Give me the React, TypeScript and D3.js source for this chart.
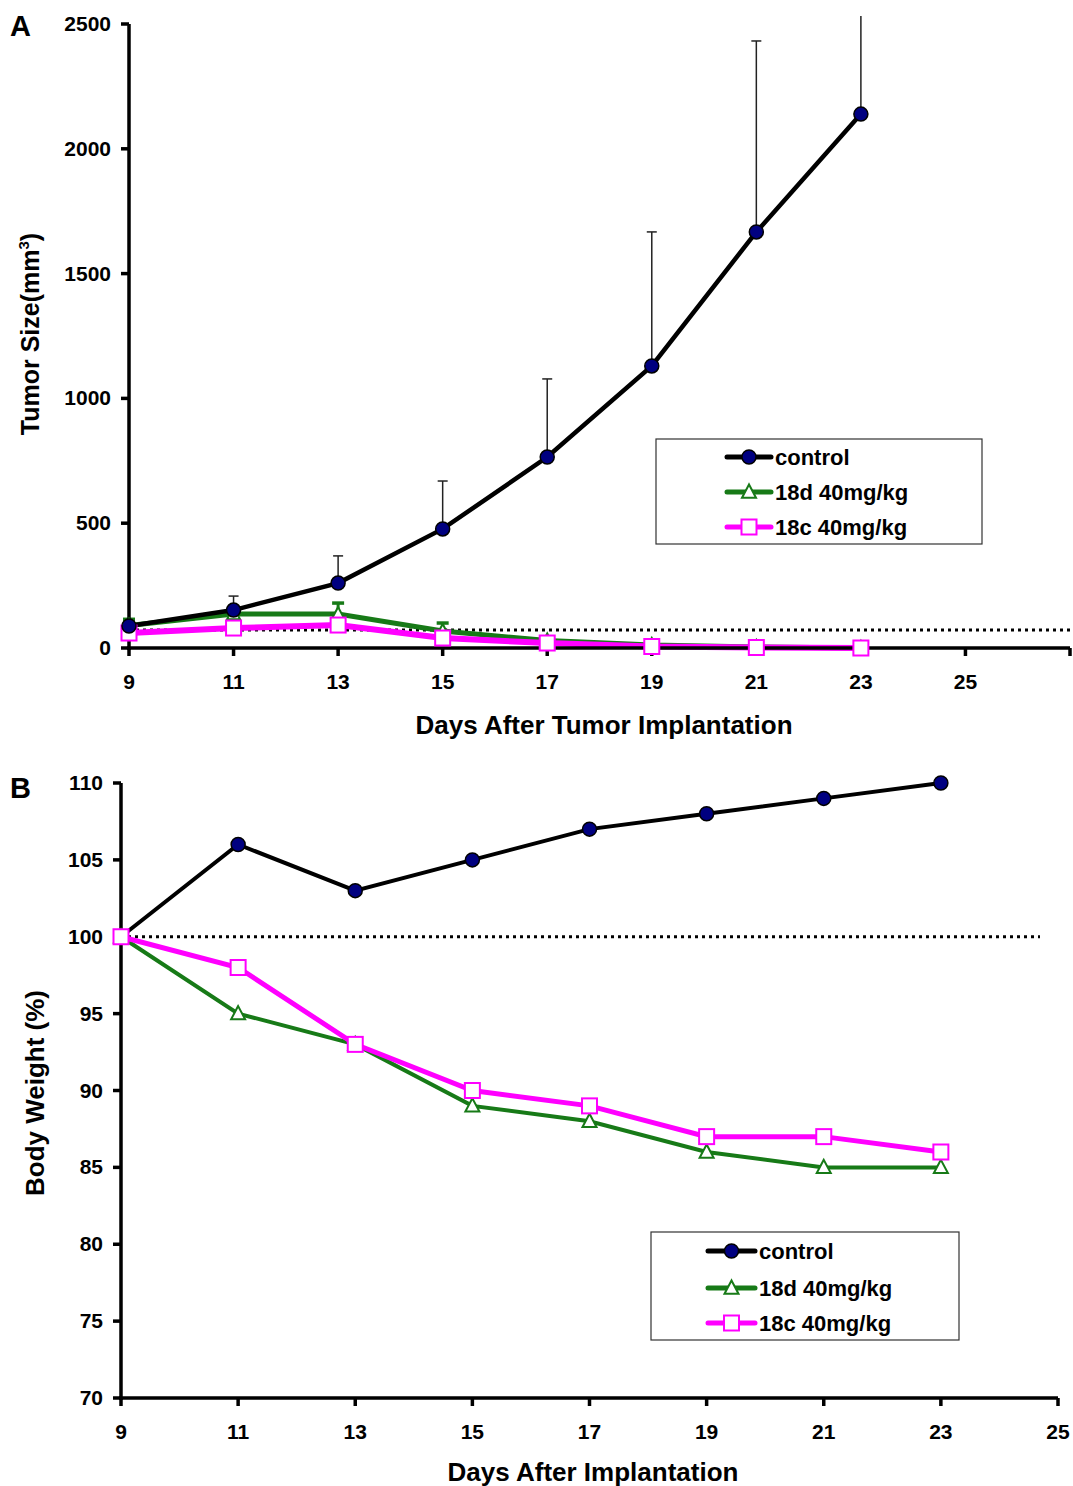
import React from "react";
import * as d3 from "d3";

const daysA = [9, 11, 13, 15, 17, 19, 21, 23];
const controlA = [88, 152, 260, 477, 765, 1130, 1667, 2139];
const controlAErr = [100, 208, 369, 669, 1078, 1667, 2432, 2532];
const d18A = [90, 136, 136, 68, 30, 12, 4, 0];
const d18AErr = [115, 160, 180, 100, null, null, null, null];
const c18A = [60, 80, 92, 40, 20, 6, 2, 0];
const refA = 72;
const ticksAY = [0, 500, 1000, 1500, 2000, 2500];
const ticksAX = [9, 11, 13, 15, 17, 19, 21, 23, 25];

const daysB = [9, 11, 13, 15, 17, 19, 21, 23];
const controlB = [100, 106, 103, 105, 107, 108, 109, 110];
const d18B = [100, 95, 93, 89, 88, 86, 85, 85];
const c18B = [100, 98, 93, 90, 89, 87, 87, 86];
const refB = 100;
const ticksBY = [70, 75, 80, 85, 90, 95, 100, 105, 110];
const ticksBX = [9, 11, 13, 15, 17, 19, 21, 23, 25];

const legendLabels = ["control", "18d 40mg/kg", "18c 40mg/kg"];

const FONT = "'Liberation Sans', Arial, Helvetica, sans-serif";
const GREEN = "#177a17";
const MAG = "#ff00ff";
const NAVY = "#000080";

function Circle({ x, y, r = 7 }: any) {
  return <circle cx={x} cy={y} r={r} fill={NAVY} stroke="#000" strokeWidth={1.5} />;
}
function Tri({ x, y, s = 14 }: any) {
  const h = s * 0.9;
  return (
    <polygon
      points={`${x},${y - h * 0.6} ${x - s / 2},${y + h * 0.45} ${x + s / 2},${y + h * 0.45}`}
      fill="#fff"
      stroke={GREEN}
      strokeWidth={2}
    />
  );
}
function Sq({ x, y, s = 15 }: any) {
  return <rect x={x - s / 2} y={y - s / 2} width={s} height={s} fill="#fff" stroke={MAG} strokeWidth={2} />;
}

function Legend({ x0, y0, w, h, rows, lx1, lx2, tx }: any) {
  return (
    <g>
      <rect x={x0} y={y0} width={w} height={h} fill="#fff" stroke="#333" strokeWidth={1.2} />
      {legendLabels.map((lab, i) => {
        const y = rows[i];
        const mx = (lx1 + lx2) / 2;
        const color = i === 0 ? "#000" : i === 1 ? GREEN : MAG;
        return (
          <g key={lab}>
            <line x1={lx1} x2={lx2} y1={y} y2={y} stroke={color} strokeWidth={5} strokeLinecap="round" />
            {i === 0 && <Circle x={mx} y={y} r={7} />}
            {i === 1 && <Tri x={mx} y={y} s={14} />}
            {i === 2 && <Sq x={mx} y={y} s={15} />}
            <text x={tx} y={y + 8} fontFamily={FONT} fontWeight="bold" fontSize={22} fill="#000">
              {lab}
            </text>
          </g>
        );
      })}
    </g>
  );
}

export default function App() {
  // Panel A
  const xA = d3.scaleLinear().domain([9, 27]).range([129, 1070]);
  const yA = d3.scaleLinear().domain([0, 2500]).range([648, 24]);
  const lineA = d3
    .line<number>()
    .x((_, i) => xA(daysA[i]))
    .y((d) => yA(d));

  // Panel B
  const xB = d3.scaleLinear().domain([9, 25]).range([121, 1058]);
  const yB = d3.scaleLinear().domain([70, 110]).range([1398, 783]);
  const lineB = d3
    .line<number>()
    .x((_, i) => xB(daysB[i]))
    .y((d) => yB(d));

  return (
    <svg
      width={1073}
      height={1486}
      style={{ position: "absolute", left: 0, top: 0, background: "#fff" }}
      fontFamily={FONT}
    >
      <rect x={0} y={0} width={1073} height={1486} fill="#fff" />
      {/* ===== Panel A ===== */}
      <text x={10} y={36} fontSize={29} fontWeight="bold">A</text>
      <line x1={xA(9)} x2={xA(27)} y1={yA(refA)} y2={yA(refA)} stroke="#000" strokeWidth={3} strokeDasharray="3 4" />
      {daysA.map((d, i) => (
        <g key={"ea" + i}>
          <line x1={xA(d)} x2={xA(d)} y1={yA(controlA[i])} y2={yA(controlAErr[i])} stroke="#222" strokeWidth={1.5} />
          {controlAErr[i] <= 2500 && (
            <line x1={xA(d) - 5} x2={xA(d) + 5} y1={yA(controlAErr[i])} y2={yA(controlAErr[i])} stroke="#222" strokeWidth={1.5} />
          )}
        </g>
      ))}
      {daysA.map((d, i) =>
        d18AErr[i] == null ? null : (
          <g key={"eg" + i}>
            <line x1={xA(d)} x2={xA(d)} y1={yA(d18A[i])} y2={yA(d18AErr[i] as number)} stroke={GREEN} strokeWidth={3} />
            <line x1={xA(d) - 6} x2={xA(d) + 6} y1={yA(d18AErr[i] as number)} y2={yA(d18AErr[i] as number)} stroke={GREEN} strokeWidth={3.5} />
          </g>
        )
      )}
      <path d={lineA(d18A) as string} fill="none" stroke={GREEN} strokeWidth={5} />
      <path d={lineA(c18A) as string} fill="none" stroke={MAG} strokeWidth={6} />
      <path d={lineA(controlA) as string} fill="none" stroke="#000" strokeWidth={4.5} />
      <line x1={xA(9)} x2={xA(9)} y1={yA(2500)} y2={yA(0) + 2} stroke="#000" strokeWidth={3.5} />
      <line x1={xA(9) - 2} x2={xA(27)} y1={yA(0)} y2={yA(0)} stroke="#000" strokeWidth={3.5} />
      {ticksAY.map((t) => (
        <g key={"ay" + t}>
          <line x1={xA(9) - 8} x2={xA(9)} y1={yA(t)} y2={yA(t)} stroke="#000" strokeWidth={3.5} />
          <text x={111} y={yA(t) + 7} textAnchor="end" fontSize={21} fontWeight="bold">{t}</text>
        </g>
      ))}
      {[...ticksAX, 27].map((t) => (
        <line key={"axt" + t} x1={xA(t)} x2={xA(t)} y1={yA(0)} y2={yA(0) + 8} stroke="#000" strokeWidth={3.5} />
      ))}
      {ticksAX.map((t) => (
        <text key={"axl" + t} x={xA(t)} y={689} textAnchor="middle" fontSize={21} fontWeight="bold">{t}</text>
      ))}
      {daysA.map((d, i) => <Tri key={"ta" + i} x={xA(d)} y={yA(d18A[i])} s={13} />)}
      {daysA.map((d, i) => <Sq key={"sa" + i} x={xA(d)} y={yA(c18A[i])} s={15} />)}
      {daysA.map((d, i) => <Circle key={"ca" + i} x={xA(d)} y={yA(controlA[i])} r={7} />)}
      <text x={604} y={734} textAnchor="middle" fontSize={26} fontWeight="bold">Days After Tumor Implantation</text>
      <text transform="translate(39,334) rotate(-90)" textAnchor="middle" fontSize={25} fontWeight="bold">
        Tumor Size(mm<tspan fontSize={15} dy={-10}>3</tspan><tspan dy={10}>)</tspan>
      </text>
      <Legend x0={656} y0={439} w={326} h={105} rows={[457, 492, 527]} lx1={727} lx2={771} tx={775} />

      {/* ===== Panel B ===== */}
      <text x={10} y={798} fontSize={29} fontWeight="bold">B</text>
      <line x1={xB(9)} x2={1040} y1={yB(refB)} y2={yB(refB)} stroke="#000" strokeWidth={3} strokeDasharray="3 4" />
      <path d={lineB(d18B) as string} fill="none" stroke={GREEN} strokeWidth={4} />
      <path d={lineB(c18B) as string} fill="none" stroke={MAG} strokeWidth={5} />
      <path d={lineB(controlB) as string} fill="none" stroke="#000" strokeWidth={4} />
      <line x1={xB(9)} x2={xB(9)} y1={yB(110)} y2={yB(70) + 2} stroke="#000" strokeWidth={3.5} />
      <line x1={xB(9) - 2} x2={xB(25)} y1={yB(70)} y2={yB(70)} stroke="#000" strokeWidth={3.5} />
      {ticksBY.map((t) => (
        <g key={"by" + t}>
          <line x1={xB(9) - 8} x2={xB(9)} y1={yB(t)} y2={yB(t)} stroke="#000" strokeWidth={3.5} />
          <text x={103} y={yB(t) + 7} textAnchor="end" fontSize={21} fontWeight="bold">{t}</text>
        </g>
      ))}
      {ticksBX.map((t) => (
        <g key={"bx" + t}>
          <line x1={xB(t)} x2={xB(t)} y1={yB(70)} y2={yB(70) + 8} stroke="#000" strokeWidth={3.5} />
          <text x={xB(t)} y={1439} textAnchor="middle" fontSize={21} fontWeight="bold">{t}</text>
        </g>
      ))}
      {daysB.map((d, i) => <Tri key={"tb" + i} x={xB(d)} y={yB(d18B[i])} s={14} />)}
      {daysB.map((d, i) => <Sq key={"sb" + i} x={xB(d)} y={yB(c18B[i])} s={15} />)}
      {daysB.map((d, i) => (i === 0 ? null : <Circle key={"cb" + i} x={xB(d)} y={yB(controlB[i])} r={7} />))}
      <text x={593} y={1481} textAnchor="middle" fontSize={26} fontWeight="bold">Days After Implantation</text>
      <text transform="translate(44,1093) rotate(-90)" textAnchor="middle" fontSize={26} fontWeight="bold">Body Weight (%)</text>
      <Legend x0={651} y0={1232} w={308} h={108} rows={[1251, 1288, 1323]} lx1={708} lx2={755} tx={759} />
    </svg>
  );
}
